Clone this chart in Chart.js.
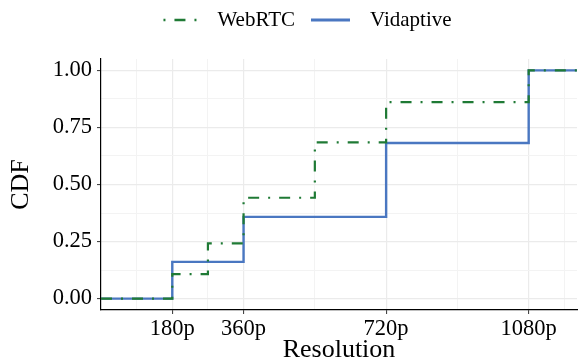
<!DOCTYPE html>
<html>
<head>
<meta charset="utf-8">
<script src="https://cdn.jsdelivr.net/npm/chart.js@4"></script>
<style>
  html, body { margin: 0; padding: 0; background: #fff; }
  #wrap { width: 578px; height: 362px; }
</style>
</head>
<body>
<div id="wrap"><canvas id="cdfChart" width="578" height="362"></canvas></div>
<script>
// resolution (p) at each step and the CDF value reached there
const webrtcRes = [0, 180, 270, 360, 540, 720, 1080, 1202];
const webrtcCdf = [0, 0.107, 0.242, 0.442, 0.685, 0.861, 1.0, 1.0];
const vidaptiveRes = [0, 180, 360, 720, 1080, 1202];
const vidaptiveCdf = [0, 0.161, 0.358, 0.682, 1.0, 1.0];

const xMajorTicks = [180, 360, 720, 1080];
const xMinorTicks = [90, 270, 540, 900, 1170];
const yMajorTicks = [0, 0.25, 0.5, 0.75, 1.0];
const yMinorTicks = [0.125, 0.375, 0.625, 0.875];

const serif = "'Liberation Serif', 'DejaVu Serif', serif";
const green = '#1f7a35';
const blue = '#4a77c1';
const webrtcDash = [11, 9, 2, 9];

function toPoints(xs, ys) {
    return xs.map((x, i) => ({ x: x, y: ys[i] }));
}

function isMajor(list, v) {
    return list.some(t => Math.abs(t - v) < 1e-6);
}

// ggplot-style legend: line key, wider gap, centred row above the panel
const keyLegend = {
    id: 'keyLegend',
    afterDraw(chart) {
        const c = chart.ctx;
        const keyW = 39, keyGap = 20, itemGap = 16, midX = 305, midY = 20;
        c.save();
        c.font = '21px ' + serif;
        const items = chart.data.datasets.map(ds => ({ ds: ds, w: c.measureText(ds.label).width }));
        const total = items.reduce((s, it) => s + keyW + keyGap + it.w, 0) + itemGap * (items.length - 1);
        let x = midX - total / 2;
        items.forEach(it => {
            c.beginPath();
            c.strokeStyle = it.ds.borderColor;
            c.lineWidth = it.ds.borderWidth + 0.4;
            c.setLineDash(it.ds.borderDash || []);
            c.lineDashOffset = 15;
            c.moveTo(x, midY);
            c.lineTo(x + keyW, midY);
            c.stroke();
            c.setLineDash([]);
            c.fillStyle = '#000';
            c.textBaseline = 'middle';
            c.textAlign = 'left';
            c.fillText(it.ds.label, x + keyW + keyGap, midY);
            x += keyW + keyGap + it.w + itemGap;
        });
        c.restore();
    }
};

const ctx = document.getElementById('cdfChart').getContext('2d');
new Chart(ctx, {
    type: 'line',
    data: {
        datasets: [
            {
                label: 'WebRTC',
                data: toPoints(webrtcRes, webrtcCdf),
                borderColor: green,
                backgroundColor: green,
                borderWidth: 2.2,
                borderDash: webrtcDash,
                stepped: 'before',
                pointRadius: 0,
                fill: false
            },
            {
                label: 'Vidaptive',
                data: toPoints(vidaptiveRes, vidaptiveCdf),
                borderColor: blue,
                backgroundColor: blue,
                borderWidth: 2.4,
                stepped: 'before',
                pointRadius: 0,
                fill: false
            }
        ]
    },
    options: {
        responsive: false,
        animation: false,
        devicePixelRatio: 1,
        layout: { padding: { left: 0, right: 1, top: 59, bottom: 0 } },
        plugins: {
            legend: { display: false },
            tooltip: { enabled: false }
        },
        scales: {
            x: {
                type: 'linear',
                min: 0,
                max: 1202,
                afterBuildTicks: s => {
                    s.ticks = xMajorTicks.concat(xMinorTicks).sort((a, b) => a - b).map(v => ({ value: v }));
                },
                afterFit: s => { s.height = 52; },
                ticks: {
                    autoSkip: false,
                    maxRotation: 0,
                    padding: 2,
                    color: '#000',
                    font: { family: serif, size: 22.5 },
                    callback: v => isMajor(xMajorTicks, v) ? v + 'p' : ''
                },
                grid: {
                    color: c => isMajor(xMajorTicks, c.tick.value) ? '#ebebeb' : '#f3f3f3',
                    lineWidth: c => isMajor(xMajorTicks, c.tick.value) ? 1.2 : 1,
                    tickColor: c => isMajor(xMajorTicks, c.tick.value) ? '#333' : 'rgba(0,0,0,0)',
                    tickLength: 4,
                    tickWidth: 1
                },
                border: { color: '#000', width: 1.2 },
                title: {
                    display: true,
                    text: 'Resolution',
                    color: '#000',
                    font: { family: serif, size: 26 },
                    padding: { top: 0, bottom: -4 }
                }
            },
            y: {
                type: 'linear',
                min: -0.05,
                max: 1.05,
                afterBuildTicks: s => {
                    s.ticks = yMajorTicks.concat(yMinorTicks).sort((a, b) => a - b).map(v => ({ value: v }));
                },
                afterFit: s => { s.width = 101; },
                ticks: {
                    autoSkip: false,
                    padding: 5,
                    color: '#000',
                    font: { family: serif, size: 22.5 },
                    callback: v => isMajor(yMajorTicks, v) ? v.toFixed(2) : ''
                },
                grid: {
                    color: c => isMajor(yMajorTicks, c.tick.value) ? '#ebebeb' : '#f3f3f3',
                    lineWidth: c => isMajor(yMajorTicks, c.tick.value) ? 1.2 : 1,
                    tickColor: c => isMajor(yMajorTicks, c.tick.value) ? '#333' : 'rgba(0,0,0,0)',
                    tickLength: 4,
                    tickWidth: 1
                },
                border: { color: '#000', width: 1.2 },
                title: {
                    display: true,
                    text: 'CDF',
                    color: '#000',
                    font: { family: serif, size: 26 },
                    padding: { top: 6, bottom: 0 }
                }
            }
        }
    },
    plugins: [keyLegend]
});
</script>
</body>
</html>
